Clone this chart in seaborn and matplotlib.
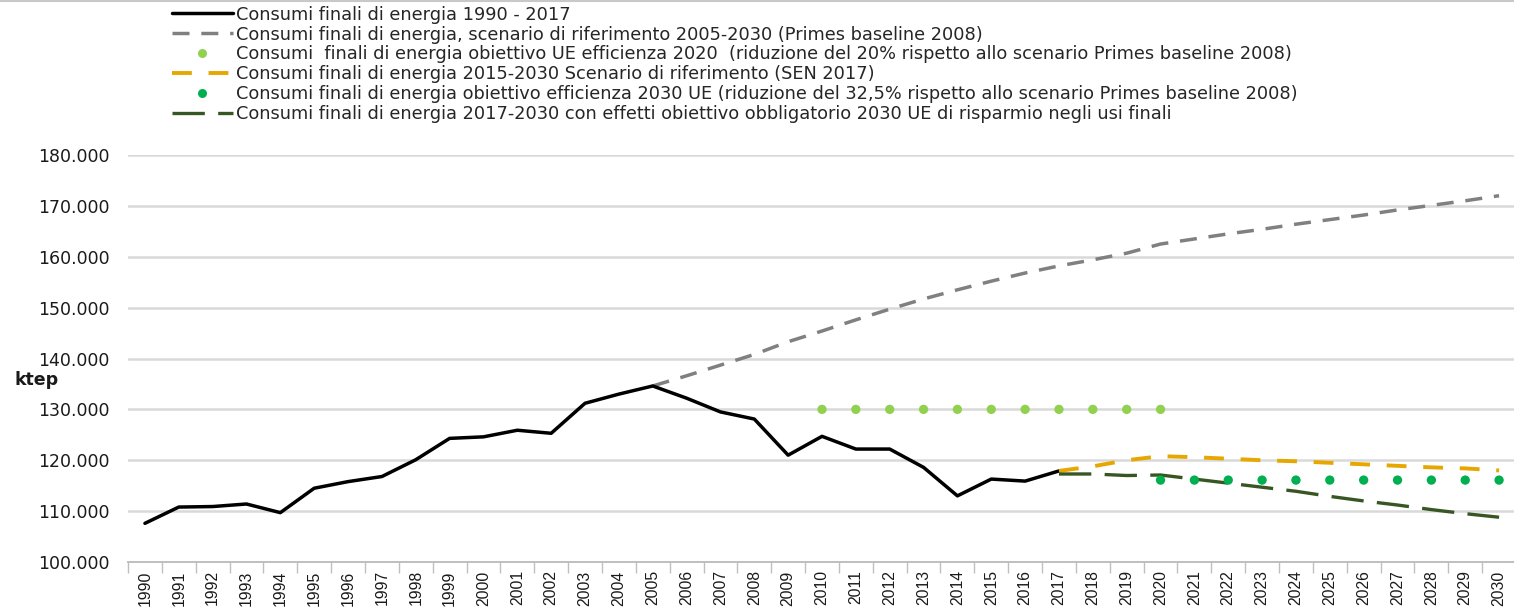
import matplotlib
matplotlib.use("Agg")
import matplotlib.pyplot as plt
import numpy as np
import seaborn as sns
from matplotlib.lines import Line2D
from matplotlib.ticker import FixedLocator, FuncFormatter

# historical final energy consumption (ktep)
years_hist = list(range(1990, 2018))
consumi_hist = [107600, 110800, 110900, 111400, 109700, 114500, 115800, 116800, 120100, 124300,
                124600, 125900, 125300, 131200, 133000, 134600, 132200, 129500, 128100, 121000,
                124700, 122200, 122200, 118600, 113000, 116300, 115900, 117900]

# Primes baseline 2008 reference scenario
years_primes = list(range(2005, 2031))
consumi_primes = [134600, 136600, 138700, 140800, 143300, 145400, 147600, 149700, 151700, 153500,
                  155200, 156800, 158200, 159400, 160700, 162500, 163500, 164500, 165400, 166400,
                  167300, 168200, 169200, 170100, 171000, 172000]

# EU 2020 efficiency target
years_target2020 = list(range(2010, 2021))
target2020 = [130000] * len(years_target2020)

# SEN 2017 reference scenario
years_sen = list(range(2017, 2031))
consumi_sen = [117900, 118800, 120000, 120800, 120600, 120300, 120000, 119800, 119500, 119200,
               118900, 118600, 118400, 118000]

# EU 2030 efficiency target
years_target2030 = list(range(2020, 2031))
target2030 = [116100] * len(years_target2030)

# with mandatory 2030 end-use savings
years_saving = list(range(2017, 2031))
consumi_saving = [117300, 117300, 117000, 117100, 116300, 115500, 114700, 113900, 112900, 112000,
                  111200, 110300, 109500, 108800]

labels = [
    "Consumi finali di energia 1990 - 2017",
    "Consumi finali di energia, scenario di riferimento 2005-2030 (Primes baseline 2008)",
    "Consumi  finali di energia obiettivo UE efficienza 2020  (riduzione del 20% rispetto allo scenario Primes baseline 2008)",
    "Consumi finali di energia 2015-2030 Scenario di riferimento (SEN 2017)",
    "Consumi finali di energia obiettivo efficienza 2030 UE (riduzione del 32,5% rispetto allo scenario Primes baseline 2008)",
    "Consumi finali di energia 2017-2030 con effetti obiettivo obbligatorio 2030 UE di risparmio negli usi finali",
]

# line styles
grey_ls = (0, (4.9, 3.4))
orange_ls = (0, (5.1, 4.3))
green_ls = (0, (9.7, 4.0))

sns.set_theme(style="white")
plt.rcParams["font.family"] = ["Liberation Sans", "DejaVu Sans"]

fig = plt.figure(figsize=(15.14, 6.08), dpi=100)
ax = fig.add_axes([128 / 1514, 1 - 562 / 608, (1516 - 128) / 1514, (562 - 155) / 608])

ax.yaxis.grid(True, color="#d9d9d9", linewidth=1.8)
ax.set_axisbelow(True)

sns.lineplot(x=years_primes, y=consumi_primes, ax=ax, color="#808080", linewidth=2.5,
             linestyle=grey_ls, zorder=2)
sns.lineplot(x=years_hist, y=consumi_hist, ax=ax, color="black", linewidth=2.5, zorder=3)
sns.lineplot(x=years_sen, y=consumi_sen, ax=ax, color="#e6a700", linewidth=2.8,
             linestyle=orange_ls, zorder=3)
sns.lineplot(x=years_saving, y=consumi_saving, ax=ax, color="#375623", linewidth=2.4,
             linestyle=green_ls, zorder=3)
sns.scatterplot(x=years_target2020, y=target2020, ax=ax, color="#92d050", s=45,
                edgecolor="none", zorder=4)
sns.scatterplot(x=years_target2030, y=target2030, ax=ax, color="#00b050", s=45,
                edgecolor="none", zorder=4)

ax.set_xlim(1989.5, 2030.5)
ax.set_ylim(100000, 180000)
ax.set_yticks(np.arange(100000, 180001, 10000))
ax.yaxis.set_major_formatter(FuncFormatter(lambda v, p: f"{v:,.0f}".replace(",", ".")))
ax.set_xticks(years_hist + list(range(2018, 2031)))
ax.xaxis.set_minor_locator(FixedLocator(np.arange(1989.5, 2031, 1.0)))
ax.tick_params(axis="x", which="major", length=0, labelrotation=90, labelsize=11.3, pad=6,
               colors="#1a1a1a")
ax.tick_params(axis="x", which="minor", length=8, width=1, color="#bfbfbf", bottom=True)
ax.tick_params(axis="y", length=0, pad=13, colors="#1a1a1a")
for lbl in ax.get_yticklabels():
    lbl.set_fontfamily("DejaVu Sans")
    lbl.set_fontsize(12.5)
ax.set_xlabel("")
ax.set_ylabel("")

for side in ["left", "right", "top"]:
    ax.spines[side].set_visible(False)
ax.spines["bottom"].set_color("#bfbfbf")
ax.spines["bottom"].set_linewidth(1.4)

fig.text(14 / 1514, 1 - 380 / 608, "ktep", fontsize=12.5, fontweight="bold", va="center",
         ha="left", color="#1a1a1a", family="DejaVu Sans")

handles = [
    Line2D([], [], color="black", linewidth=2.5),
    Line2D([], [], color="#808080", linewidth=2.5, linestyle=grey_ls),
    Line2D([], [], color="#92d050", linestyle="none", marker="o", markersize=6.5,
           markeredgewidth=0),
    Line2D([], [], color="#e6a700", linewidth=2.8, linestyle=orange_ls),
    Line2D([], [], color="#00b050", linestyle="none", marker="o", markersize=6.5,
           markeredgewidth=0),
    Line2D([], [], color="#375623", linewidth=2.4, linestyle=green_ls),
]
fig.legend(handles, labels, loc="upper left", bbox_to_anchor=(168 / 1514, 1 - 2 / 608),
           frameon=False, prop={"family": "DejaVu Sans", "size": 12.8},
           handlelength=3.45, handletextpad=0.2, labelspacing=0.11, borderpad=0.2,
           borderaxespad=0)

fig.add_artist(Line2D([0, 1], [0.999, 0.999], transform=fig.transFigure, color="#c8c8c8",
                      linewidth=1.5))

fig.savefig("out.png", dpi=100)
